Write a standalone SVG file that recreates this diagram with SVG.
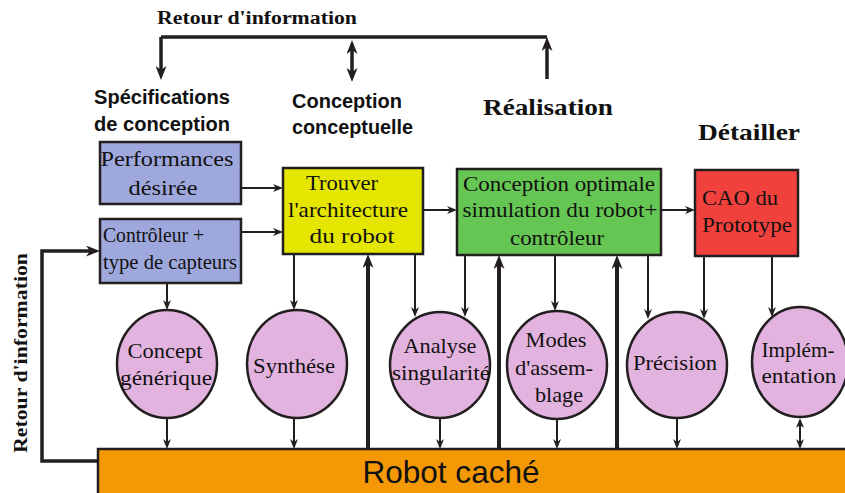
<svg xmlns="http://www.w3.org/2000/svg" width="845" height="493" viewBox="0 0 845 493">
<style>
.bx{stroke:#231f20;stroke-width:2.5}
.ci{fill:#e3b3df;stroke:#231f20;stroke-width:2.5}
.t{font-family:"Liberation Serif",serif;font-size:21px;fill:#111;text-anchor:middle}
.tl{text-anchor:start}
.h{font-family:"Liberation Sans",Arial,sans-serif;font-weight:bold;font-size:19.5px;fill:#111}
.hs{font-family:"Liberation Serif",serif;font-weight:bold;fill:#111}
.c{fill:none;stroke:#231f20;stroke-width:2}
.k{fill:none;stroke:#231f20;stroke-width:4}
.f{fill:none;stroke:#231f20;stroke-width:3.5}
</style>
<defs>
<marker id="a" viewBox="0 0 10 8" markerWidth="10" markerHeight="8" refX="3" refY="4" orient="auto-start-reverse" markerUnits="userSpaceOnUse"><path d="M0,0 L10,4 L0,8 L3,4 z" fill="#231f20"/></marker>
<marker id="A" viewBox="0 0 14 11" markerWidth="14" markerHeight="11" refX="4" refY="5.5" orient="auto-start-reverse" markerUnits="userSpaceOnUse"><path d="M0,0 L14,5.5 L0,11 L4,5.5 z" fill="#231f20"/></marker>
</defs>

<g id="labels">
<text class="hs" x="257" y="24" font-size="18" text-anchor="middle" textLength="200" lengthAdjust="spacingAndGlyphs">Retour d'information</text>
<text class="h" x="94" y="104" textLength="136" lengthAdjust="spacingAndGlyphs">Spécifications</text>
<text class="h" x="94" y="131" textLength="136" lengthAdjust="spacingAndGlyphs">de conception</text>
<text class="h" x="292" y="108" textLength="110" lengthAdjust="spacingAndGlyphs">Conception</text>
<text class="h" x="292" y="134" textLength="121" lengthAdjust="spacingAndGlyphs">conceptuelle</text>
<text class="hs" x="483" y="115" font-size="24" textLength="130" lengthAdjust="spacingAndGlyphs">Réalisation</text>
<text class="hs" x="698" y="140" font-size="24" textLength="102" lengthAdjust="spacingAndGlyphs">Détailler</text>
<text class="hs" transform="translate(27,353) rotate(-90)" x="0" y="0" font-size="18" text-anchor="middle" textLength="200" lengthAdjust="spacingAndGlyphs">Retour d'information</text>
</g>

<g id="connectors">
<path class="f" d="M161,37 H547"/>
<line class="f" x1="161" y1="37" x2="161" y2="70" marker-end="url(#A)"/>
<line class="f" x1="547" y1="79" x2="547" y2="47" marker-end="url(#A)"/>
<line class="f" x1="352" y1="50" x2="352" y2="72" marker-start="url(#A)" marker-end="url(#A)"/>
<path class="f" d="M98,461 H42 V251 H90" marker-end="url(#A)"/>

<line class="c" x1="241" y1="188" x2="276" y2="188" marker-end="url(#a)"/>
<line class="c" x1="241" y1="232" x2="276" y2="232" marker-end="url(#a)"/>
<line class="c" x1="423" y1="210" x2="450" y2="210" marker-end="url(#a)"/>
<line class="c" x1="661" y1="210" x2="688" y2="210" marker-end="url(#a)"/>

<line class="c" x1="167" y1="283" x2="167" y2="303" marker-end="url(#a)"/>
<line class="c" x1="167" y1="418" x2="167" y2="442" marker-end="url(#a)"/>
<line class="c" x1="294" y1="254" x2="294" y2="303" marker-end="url(#a)"/>
<line class="c" x1="294" y1="418" x2="294" y2="442" marker-end="url(#a)"/>
<line class="c" x1="415" y1="254" x2="415" y2="310" marker-end="url(#a)"/>
<line class="c" x1="465" y1="255" x2="465" y2="310" marker-end="url(#a)"/>
<line class="c" x1="440" y1="418" x2="440" y2="442" marker-end="url(#a)"/>
<line class="c" x1="555" y1="255" x2="555" y2="304" marker-end="url(#a)"/>
<line class="c" x1="557" y1="420" x2="557" y2="442" marker-end="url(#a)"/>
<line class="c" x1="648" y1="255" x2="648" y2="312" marker-end="url(#a)"/>
<line class="c" x1="704" y1="256" x2="704" y2="312" marker-end="url(#a)"/>
<line class="c" x1="772" y1="256" x2="772" y2="310" marker-end="url(#a)"/>
<line class="c" x1="677" y1="418" x2="677" y2="442" marker-end="url(#a)"/>
<line class="c" x1="800" y1="425" x2="800" y2="442" marker-start="url(#a)" marker-end="url(#a)"/>

<line class="k" x1="368" y1="449" x2="368" y2="264" marker-end="url(#A)"/>
<line class="k" x1="499" y1="449" x2="499" y2="265" marker-end="url(#A)"/>
<line class="k" x1="617" y1="449" x2="617" y2="265" marker-end="url(#A)"/>
</g>

<g id="performances">
<rect class="bx" x="100" y="142" width="141" height="62" fill="#9fa8dc"/>
<text class="t" x="167" y="166" textLength="133" lengthAdjust="spacingAndGlyphs">Performances</text>
<text class="t" x="163" y="195" textLength="69" lengthAdjust="spacingAndGlyphs">désirée</text>
</g>

<g id="controleur">
<rect class="bx" x="100" y="219" width="141" height="64" fill="#9fa8dc"/>
<text class="t tl" x="103" y="242" font-size="19" textLength="101" lengthAdjust="spacingAndGlyphs">Contrôleur +</text>
<text class="t tl" x="103" y="269" font-size="19" textLength="134" lengthAdjust="spacingAndGlyphs">type de capteurs</text>
</g>

<g id="trouver">
<rect class="bx" x="283" y="168" width="140" height="86" fill="#e4e600"/>
<text class="t" x="342" y="190" textLength="72" lengthAdjust="spacingAndGlyphs">Trouver</text>
<text class="t" x="348" y="217" textLength="120" lengthAdjust="spacingAndGlyphs">l'architecture</text>
<text class="t" x="352" y="243" textLength="85" lengthAdjust="spacingAndGlyphs">du  robot</text>
</g>

<g id="conception-optimale">
<rect class="bx" x="457" y="169" width="204" height="86" fill="#66c653"/>
<text class="t" x="559" y="191" textLength="192" lengthAdjust="spacingAndGlyphs">Conception optimale</text>
<text class="t" x="560" y="217" textLength="195" lengthAdjust="spacingAndGlyphs">simulation du robot+</text>
<text class="t" x="557" y="245" textLength="94" lengthAdjust="spacingAndGlyphs">contrôleur</text>
</g>

<g id="cao">
<rect class="bx" x="695" y="170" width="103" height="86" fill="#f1413d"/>
<text class="t tl" x="702" y="205" textLength="76" lengthAdjust="spacingAndGlyphs">CAO du</text>
<text class="t tl" x="702" y="232" textLength="90" lengthAdjust="spacingAndGlyphs">Prototype</text>
</g>

<g id="concept-generique">
<ellipse class="ci" cx="167" cy="364" rx="50" ry="54"/>
<text class="t" x="165" y="358" textLength="75" lengthAdjust="spacingAndGlyphs">Concept</text>
<text class="t" x="166" y="385" textLength="92" lengthAdjust="spacingAndGlyphs">générique</text>
</g>

<g id="synthese">
<ellipse class="ci" cx="297" cy="364" rx="50" ry="54"/>
<text class="t" x="294" y="373" textLength="82" lengthAdjust="spacingAndGlyphs">Synthése</text>
</g>

<g id="analyse">
<ellipse class="ci" cx="440" cy="365" rx="50" ry="53"/>
<text class="t" x="440" y="353" textLength="73" lengthAdjust="spacingAndGlyphs">Analyse</text>
<text class="t" x="441" y="380" textLength="98" lengthAdjust="spacingAndGlyphs">singularité</text>
</g>

<g id="modes">
<ellipse class="ci" cx="557" cy="365" rx="50" ry="54"/>
<text class="t" x="556" y="347" textLength="61" lengthAdjust="spacingAndGlyphs">Modes</text>
<text class="t" x="554" y="375" textLength="78" lengthAdjust="spacingAndGlyphs">d'assem-</text>
<text class="t" x="559" y="402" textLength="48" lengthAdjust="spacingAndGlyphs">blage</text>
</g>

<g id="precision">
<ellipse class="ci" cx="677" cy="365" rx="50" ry="53"/>
<text class="t" x="675" y="370" textLength="84" lengthAdjust="spacingAndGlyphs">Précision</text>
</g>

<g id="implementation">
<ellipse class="ci" cx="800" cy="362" rx="48" ry="55"/>
<text class="t" x="798" y="357" textLength="73" lengthAdjust="spacingAndGlyphs">Implém-</text>
<text class="t" x="799" y="383" textLength="75" lengthAdjust="spacingAndGlyphs">entation</text>
</g>

<g id="robot-cache">
<rect class="bx" x="98" y="449" width="770" height="60" fill="#f59806" stroke-width="2"/>
<text x="451" y="483" font-family="'Liberation Sans',Arial,sans-serif" font-size="31.5" fill="#111" text-anchor="middle" textLength="177" lengthAdjust="spacingAndGlyphs">Robot caché</text>
</g>
</svg>
